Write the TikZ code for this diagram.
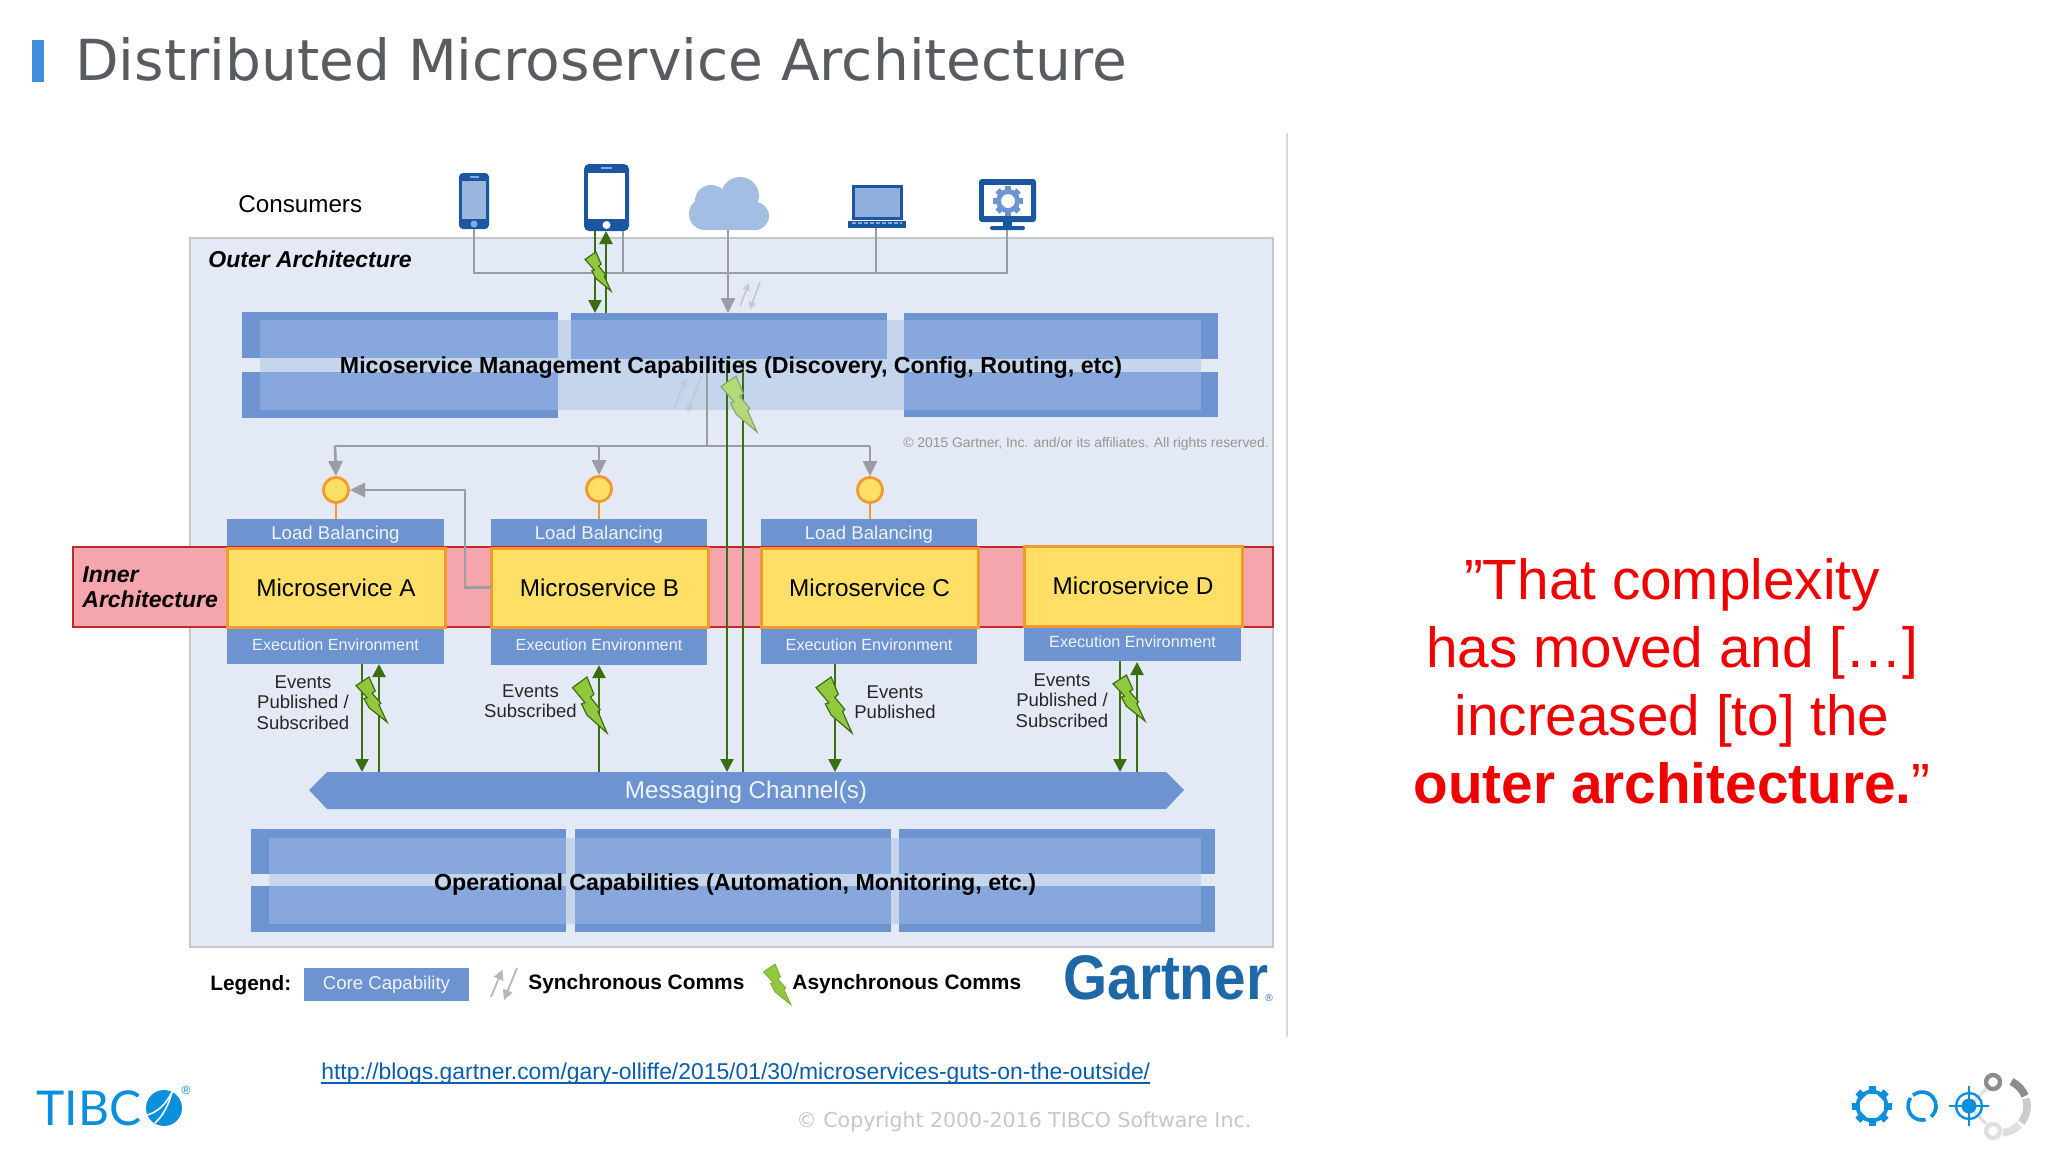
\documentclass[tikz,border=0pt]{standalone}
\usepackage{fontspec}
\setmainfont{Liberation Sans}
\newfontfamily\dejavu{DejaVu Sans}
\newfontfamily\latofam{Lato}
\usetikzlibrary{arrows.meta,calc}
\definecolor{dk}{HTML}{6D93D1}
\definecolor{lt}{HTML}{87A7DD}
\definecolor{pale}{HTML}{C5D5EC}
\definecolor{bgo}{HTML}{E4EAF5}
\definecolor{gline}{HTML}{9A9DA3}
\definecolor{green1}{HTML}{3B6E12}
\definecolor{bfill}{HTML}{92C83E}
\definecolor{orng}{HTML}{F09A30}
\definecolor{yel}{HTML}{FFDF66}
\definecolor{navy}{HTML}{1B56A0}
\definecolor{tib}{HTML}{0A8FDC}
\definecolor{tbarc}{HTML}{3E8EDE}
\definecolor{titlec}{HTML}{585C60}
\definecolor{phonescr}{HTML}{9AB5DE}
\definecolor{cloudc}{HTML}{A3BDE3}
\definecolor{lapscr}{HTML}{8FAEDC}
\definecolor{bandf}{HTML}{F4A6AC}
\definecolor{bandd}{HTML}{C02A2A}
\definecolor{gartc}{HTML}{1F68A8}
\definecolor{urlc}{HTML}{0B5CAD}
\definecolor{redq}{HTML}{F00000}
\newcommand\fs[1]{\fontsize{#1}{#1}\selectfont}
\newcommand\rb[6][]{\node[rbase,#1,minimum width={(#5-#3)*0.5pt},minimum height={(#6-#4)*0.5pt},anchor=north west] (#2) at (#3,#4) {};}
\newcommand\bolt[5][boltst]{\begin{scope}[shift={(#2,#3)},xscale={#4-#2},yscale={#5-#3}]
\path[#1] (0.42,0) -- (0,0.19) -- (0.36,0.46) -- (0.26,0.48) -- (0.42,0.68) -- (1,1) -- (0.74,0.62) -- (0.8,0.58) -- (0.52,0.36) -- (0.62,0.31) -- cycle;\end{scope}}
\newcommand\syncw{3.5pt}
\newcommand\syncicon[5][syncst]{\begin{scope}[shift={(#2,#3)},xscale={#4-#2},yscale={#5-#3}]
\draw[#1,-{Triangle[width=\syncw,length=\syncw]}] (0,0.9) -- (0.44,0.05);
\draw[#1,-{Triangle[width=\syncw,length=\syncw]}] (1,0) -- (0.5,1);
\end{scope}}
\tikzset{
 rbase/.style={inner sep=0pt,outer sep=0pt},
 dkbox/.style={fill=dk},
 ltbox/.style={fill=lt},
 palebox/.style={fill=pale},
 msbox/.style={fill=yel,draw=orng,line width=1.5pt},
 wlabel/.style={text=white!90!dk,inner sep=0pt},
 blabel/.style={text=black,inner sep=0pt},
 evlabel/.style={text=black!85,inner sep=0pt,align=center,font=\fs{9.25}},
 gconn/.style={draw=gline,line width=1.3pt},
 garrow/.style={gconn,-{Triangle[width=7pt,length=7.5pt]}},
 gnconn/.style={draw=green1,line width=1.2pt},
 gnarrow/.style={gnconn,-{Triangle[width=6.5pt,length=6.5pt]}},
 boltst/.style={fill=bfill,draw=green1,line width=.6pt,line join=miter},
 syncst/.style={draw=gline!45!bgo,line width=.8pt},
 syncleg/.style={draw=black!28,line width=.9pt},
 lbcirc/.style={circle,fill=yel,draw=orng,line width=1.4pt,minimum size=12.6pt,inner sep=0pt},
 stem/.style={draw=orng,line width=1.3pt},
}
\begin{document}
\begin{tikzpicture}[x=0.5pt,y=-0.5pt]
\useasboundingbox (0,0) rectangle (2048,1152);
\fill[white] (0,0) rectangle (2048,1152);
% title
\rb[fill=tbarc]{tbar}{32}{40}{44}{82}
\node[anchor=west,inner sep=0pt,text=titlec,font=\dejavu\fs{28.3}] (title) at (75,59) {Distributed Microservice Architecture};
\coordinate (divT) at (1287,133); \coordinate (divB) at (1287,1037);
\draw[black!15,line width=.6pt] (divT) -- (divB);
% outer
\rb[fill=bgo,draw=black!22,line width=1pt]{outer}{190}{238}{1273}{947}
\node[anchor=west,inner sep=0pt,font=\fs{12.1}] (consumers) at (238,204) {Consumers};
\node[anchor=west,inner sep=0pt,font=\bfseries\itshape\fs{11.5}] (outerlab) at (208,259) {Outer Architecture};
% devices
\rb[fill=navy,rounded corners=2pt]{phone1}{459}{173}{489}{229}
\rb[fill=phonescr]{phone1s}{462}{181}{486}{219}
\node[circle,fill=lt,minimum size=3.5pt,inner sep=0pt] (phone1b) at (474,224) {};
\rb[fill=lt]{phone1m}{470}{176}{479}{178}
\rb[fill=navy,rounded corners=2.5pt]{tablet}{584}{164}{629}{231}
\rb[fill=white]{tablets}{588}{173}{625}{219}
\node[circle,fill=white,minimum size=4pt,inner sep=0pt] (tabletb) at (606.5,225) {};
\rb[fill=lt]{tabletm}{601}{167}{612}{169}
% cloud
\begin{scope}[cloudc]
\fill (705,214) circle[radius=16];
\fill (711,201) circle[radius=16];
\fill (740,196) circle[radius=19];
\fill (755,216) circle[radius=14];
\fill (705,205) rectangle (755,230);
\end{scope}
\coordinate (cloud) at (728,230);
% laptop
\rb[fill=lapscr,draw=navy,line width=1.5pt]{laptop}{853}{186}{901}{218}
\rb[fill=navy]{laptopb}{848}{221}{906}{228}
\coordinate (lapA) at (852,223); \coordinate (lapB) at (902,223);
\draw[lt,line width=.7pt,dash pattern=on 2pt off 1pt] (lapA) -- (lapB);
% monitor
\rb[fill=navy,rounded corners=1.5pt]{monitor}{979}{179}{1036}{222}
\rb[fill=white]{monitors}{984}{185}{1031}{216}
\rb[fill=navy]{mneck}{1003}{222}{1012}{227}
\rb[fill=navy,rounded corners=1pt]{mbase}{990}{226}{1025}{230}
\foreach \a in {0,45,...,315} \fill[dk,rotate around={\a:(1008,201)}] (1005,186) rectangle (1011,193);
\draw[dk,line width=2.4pt] (1008,201) circle[radius=9.5];
% bus
\coordinate (busL) at (475,273); \coordinate (busR) at (1007,273);
\coordinate (tabR) at (623,231); \coordinate (busT) at (623,273);
\coordinate (lapJ) at (876,273); \coordinate (cloudJ) at (728,273);
% management
\rb[palebox]{mgband}{260}{320}{1201}{410}
\rb[dkbox]{mgL1}{242}{312}{558}{358}\rb[dkbox]{mgL2}{242}{372}{558}{418}
\rb[ltbox]{mgL1i}{260}{320}{558}{358}\rb[ltbox]{mgL2i}{260}{372}{558}{410}
\rb[dkbox]{mgM}{571}{313}{887}{359}\rb[ltbox]{mgMi}{571}{320}{887}{359}
\rb[dkbox]{mgR1}{904}{313}{1218}{359}\rb[dkbox]{mgR2}{904}{372}{1218}{417}
\rb[ltbox]{mgR1i}{904}{320}{1201}{359}\rb[ltbox]{mgR2i}{904}{372}{1201}{410}
\syncicon{674}{377}{701}{412}
\syncicon{740}{282}{760}{309}
% gray connectors top
\draw[gconn] (phone1.south) |- (busR) -- (mbase.south -| busR);
\draw[gconn] (tabR) -- (busT);
\draw[gconn] (laptopb.south -| lapJ) -- (lapJ);
\draw[garrow] (cloud) -- (cloud |- mgM.north);
% green tablet
\coordinate (tabG1) at (595,231); \coordinate (tabG2) at (606,231);
\draw[gnarrow] (tabG1) -- (tabG1 |- mgM.north);
\draw[gnarrow] (tabG2 |- mgM.north) -- (tabG2);
\bolt{585}{252}{611}{291}
% inner band
\rb[fill=bandf,draw=bandd,line width=1pt]{band}{72.5}{547}{1273}{627}
\node[anchor=north west,inner sep=0pt,align=left,font=\bfseries\itshape\fs{11.5}] (innerlab) at (82,566) {Inner\\[1pt]Architecture};
% gray distribution
\coordinate (hubT) at (707,362); \coordinate (hubB) at (707,446);
\coordinate (distL) at (335,446); \coordinate (distM) at (599,446); \coordinate (distR) at (870,446);
% services
\rb[dkbox]{lbA}{227}{519}{444}{546}\rb[dkbox]{lbB}{491}{519}{707}{546}\rb[dkbox]{lbC}{761}{519}{977}{546}
\rb[dkbox]{exA}{227}{629}{444}{664}\rb[dkbox]{exB}{491}{629}{707}{665}\rb[dkbox]{exC}{761}{629}{977}{664}\rb[dkbox]{exD}{1024}{627}{1241}{661}
\rb[msbox]{msA}{227}{548}{445}{627}\rb[msbox]{msB}{491}{548}{708}{627}\rb[msbox]{msC}{761}{548}{978}{627}\rb[msbox]{msD}{1024}{546}{1242}{626}
\foreach \n/\t in {msA/Microservice A,msB/Microservice B,msC/Microservice C,msD/Microservice D} \node[blabel,font=\fs{12.15}] at (\n) {\t};
\foreach \n in {lbA,lbB,lbC} \node[wlabel,font=\fs{9.3},yshift=-1pt] at (\n) {Load Balancing};
\foreach \n in {exA,exB,exC,exD} \node[wlabel,font=\fs{8.1},yshift=1pt] at (\n) {Execution Environment};
\node[lbcirc] (cA) at (336,490) {};
\node[lbcirc] (cB) at (599,489) {};
\node[lbcirc] (cC) at (870,490) {};
\draw[stem] (cA.south) -- (cA.south |- lbA.north);
\draw[stem] (cB.south) -- (cB.south |- lbB.north);
\draw[stem] (cC.south) -- (cC.south |- lbC.north);
\draw[gconn] (hubT) -- (hubB);
\draw[gconn] (distL) -- (distR);
\draw[garrow] (distL) -- (cA.north);
\draw[garrow] (distM) -- (cB.north);
\draw[garrow] (distR) -- (cC.north);
\coordinate (elb) at (465,490);
\draw[garrow] (msB.west) -| (elb) -- (cA.east);
% channel
\fill[dk] (309,790) -- (327,772) -- (1166,772) -- (1184,790) -- (1166,809) -- (327,809) -- cycle;
\node[rbase,minimum width=419.5pt,minimum height=18.5pt,anchor=north west] (chan) at (327,772) {};
\node[wlabel,font=\fs{12.1}] (chanlab) at (746,792.5) {Messaging Channel(s)};
% green connectors
\coordinate (gA1) at (362,664); \coordinate (gA2) at (379,664);
\coordinate (gB) at (599,665); \coordinate (gC) at (835,664);
\coordinate (gD1) at (1120,661); \coordinate (gD2) at (1137,662);
\coordinate (gM1) at (727,360); \coordinate (gM2) at (743,360);
\draw[gnarrow] (gA1) -- (gA1 |- chan.north);
\draw[gnarrow] (gA2 |- chan.north) -- (gA2);
\draw[gnarrow] (gB |- chan.north) -- (gB);
\draw[gnarrow] (gC) -- (gC |- chan.north);
\draw[gnarrow] (gD1) -- (gD1 |- chan.north);
\draw[gnarrow] (gD2 |- chan.north) -- (gD2);
\draw[gnarrow] (gM1) -- (gM1 |- chan.north);
\draw[gnconn] (gM2) -- (gM2 |- chan.north);
\bolt{356}{677}{387}{722}
\bolt{572.5}{677}{607}{733}
\bolt{816}{677}{852}{733}
\bolt{1113}{675}{1145}{721}
\bolt[boltst,fill=bfill!70!white,draw=green1!60!white]{721}{376}{757}{432}
\node[blabel,font=\bfseries\fs{11.6}] (mglab) at (731,367.5) {Micoservice Management Capabilities (Discovery, Config, Routing, etc)};
\node[anchor=west,inner sep=0pt,text=black!42,font=\fs{6.93}] (gcopy) at (903,444) {© 2015 Gartner, Inc. and/or its affiliates. All rights reserved.};
% event labels
\node[evlabel] (evA) at (303,702.5) {Events\\[1pt]Published /\\[1pt]Subscribed};
\node[evlabel] (evB) at (530.5,701) {Events\\[1pt]Subscribed};
\node[evlabel] (evC) at (895,702) {Events\\[1pt]Published};
\node[evlabel] (evD) at (1062,700.5) {Events\\[1pt]Published /\\[1pt]Subscribed};
% operational
\rb[palebox]{opband}{269}{838}{1201}{924}
\foreach \n/\a/\b in {opL/251/566,opM/575/891,opR/899/1215}{
 \rb[dkbox]{\n1}{\a}{829}{\b}{874}\rb[dkbox]{\n2}{\a}{886}{\b}{932}
 \pgfmathsetmacro\ia{max(\a,269)}\pgfmathsetmacro\ib{min(\b,1201)}
 \rb[ltbox]{\n1i}{\ia}{838}{\ib}{874}\rb[ltbox]{\n2i}{\ia}{886}{\ib}{924}
}
\node[blabel,font=\bfseries\fs{11.6}] (oplab) at (735,884.5) {Operational Capabilities (Automation, Monitoring, etc.)};
% legend
\node[anchor=west,inner sep=0pt,font=\bfseries\fs{10.4}] (leg) at (210,985) {Legend:};
\rb[dkbox]{core}{304}{968}{469}{1001}
\node[wlabel,font=\fs{9.3}] at (core) {Core Capability};
\renewcommand\syncw{5pt}
\syncicon[syncleg]{491}{968}{517}{1000}
\node[anchor=west,inner sep=0pt,font=\bfseries\fs{10.45}] (legs) at (528,984) {Synchronous Comms};
\bolt[boltst,draw=bfill!70!green1,line width=.4pt]{763.5}{964}{791}{1005}
\node[anchor=west,inner sep=0pt,font=\bfseries\fs{10.45}] (lega) at (792,984) {Asynchronous Comms};
\node[anchor=west,inner sep=0pt,text=gartc,font=\bfseries\fs{31.5}] (gartner) at (1063,978) {\scalebox{.9}[1]{Gartner}};
\node[inner sep=0pt,text=gartc,font=\fs{5}] (gartr) at (1269,998) {®};
% url and copyright
\node[anchor=west,inner sep=0pt,text=urlc,font=\fs{11.44}] (url) at (321,1073.5) {http://blogs.gartner.com/gary-olliffe/2015/01/30/microservices-guts-on-the-outside/};
\coordinate (uA) at (321,1083); \coordinate (uB) at (1150,1083);
\draw[urlc,line width=.7pt] (uA) -- (uB);
\node[anchor=west,inner sep=0pt,text=black!22,font=\dejavu\fs{10.25}] (copy) at (796,1122) {© Copyright 2000-2016 TIBCO Software Inc.};
% quote
\node[align=center,inner sep=0pt,text=redq,font=\fs{28.35}] (quote) at (1672,681) {”That complexity\\[5.65pt]has moved and […]\\[5.65pt]increased [to] the\\[5.65pt]\textbf{outer architecture.}\fontseries{m}\selectfont”};
% tibco logo
\node[anchor=west,inner sep=0pt,text=tib,font=\latofam\fs{24}] (tibco) at (36,1108) {TIBC};
\fill[tib] (164,1108) circle[radius=18];
\coordinate (sw) at (172,1092);
\draw[white,line width=.8pt] (147,1115) .. controls (158,1112) and (166,1104) .. (sw);
\draw[white,line width=.8pt] (155,1123) .. controls (163,1116) and (169,1104) .. (sw);
\node[text=tib,inner sep=0pt,font=\fs{6}] (tibr) at (186,1090) {®};
% right icons
\coordinate (ic1) at (1872,1106); \coordinate (ic2) at (1922,1106); \coordinate (ic3) at (1969,1106);
\coordinate (n1) at (1993,1082); \coordinate (n2) at (1993,1131); \coordinate (ic4) at (2000,1106);
\draw[black!12,line width=1.6pt] (n1) -- (ic3) -- (n2);
\draw[black!45,line width=3.8pt] (ic4) ++(-65:27) arc[start angle=-65,end angle=-22,radius=27];
\draw[black!20,line width=3.8pt] (ic4) ++(-16:27) arc[start angle=-16,end angle=38,radius=27];
\draw[black!13,line width=3.8pt] (ic4) ++(44:27) arc[start angle=44,end angle=85,radius=27];
\fill[white] (n1) circle[radius=10]; \fill[white] (n2) circle[radius=10];
\draw[black!45,line width=2.2pt] (n1) circle[radius=7];
\draw[black!12,line width=2.2pt] (n2) circle[radius=7];
\foreach \a in {0,45,...,315} \fill[tib,rotate around={\a:(ic1)}] (1868.5,1086) rectangle (1875.5,1094);
\draw[tib,line width=1.9pt] (ic1) circle[radius=14.5];
\draw[tib,line width=1.8pt] (ic2) ++(25:14) arc[start angle=25,end angle=-130,radius=14];
\draw[tib,line width=1.8pt] (ic2) ++(-145:14) arc[start angle=-145,end angle=-285,radius=14];
\draw[tib,line width=1.8pt] (ic2) ++(50:14) arc[start angle=50,end angle=-5,radius=14];
\draw[tib,line width=1.2pt] (ic3) circle[radius=13];
\fill[tib] (ic3) circle[radius=7.5];
\draw[tib,line width=1.1pt] ($(ic3)+(-20,0)$) -- ($(ic3)+(20,0)$);
\draw[tib,line width=1.1pt] ($(ic3)+(0,-20)$) -- ($(ic3)+(0,20)$);
\end{tikzpicture}
\end{document}
